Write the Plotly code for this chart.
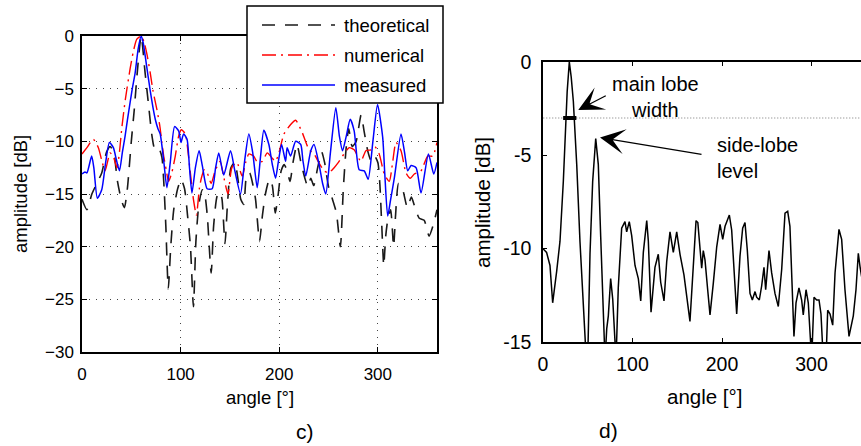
import plotly.graph_objects as go

W, H = 861, 446
def px(x): return x / W
def py(y): return 1 - y / H

# ---------------- panel c) data ----------------
theo_ang = [0, 5, 10, 15, 20, 25, 28.5, 32, 36, 40, 43, 46, 50, 53, 56, 60, 64, 68, 71, 74, 78, 81, 83, 85, 87.5,
            90, 93, 97, 100.5, 104, 107, 110, 113, 115.5, 118.5, 122, 124, 127, 131, 133.5, 137, 140, 142, 145,
            147.5, 151, 155, 158, 161, 164, 167, 170, 173, 176, 180, 183, 186, 190, 193, 196, 199, 202, 205, 208,
            211, 214, 218, 222, 226, 229, 232, 235, 239, 243, 246, 250, 254, 258, 262, 265, 268, 270.5, 274, 278,
            283, 286, 290, 293, 296, 300, 302, 304, 306, 308, 310, 313, 316, 318, 321, 325, 330, 334, 338, 342,
            347, 352, 356, 360]
theo_db = [-15.5, -16.5, -15.0, -14.0, -13.0, -11.0, -10.5, -11.0, -13.8, -15.6, -16.3, -14.5, -10.0, -7.0, -3.5,
           0.0, -3.5, -7.0, -9.5, -10.8, -10.7, -11.5, -14.0, -18.0, -24.0, -20.0, -16.5, -14.5, -13.6, -14.5,
           -17.0, -20.0, -25.7, -19.5, -16.0, -14.6, -14.8, -17.0, -22.5, -18.0, -15.2, -14.8, -15.5, -19.7,
           -16.0, -12.5, -12.0, -13.5, -15.5, -16.0, -13.2, -13.0, -14.0, -15.5, -19.5, -17.0, -15.0, -13.6,
           -14.2, -16.8, -15.0, -12.8, -12.2, -12.8, -13.8, -12.0, -10.3, -12.0, -13.5, -14.3, -13.5, -14.2,
           -12.5, -11.0, -12.0, -14.3, -15.5, -16.8, -20.0, -14.5, -10.5, -8.8, -10.5, -10.0, -7.5, -9.0,
           -11.0, -11.8, -11.3, -12.0, -14.0, -18.0, -21.8, -19.0, -17.5, -16.5, -20.0, -17.0, -14.0, -14.5,
           -16.3, -15.3, -16.4, -17.3, -17.5, -19.0, -18.0, -16.5]

num_ang = [0, 5, 11.5, 16.6, 20, 23.4, 28.5, 32, 35.5, 38, 40.4, 44, 48.8, 52, 55.6, 60, 63, 66, 69.2, 72, 76, 79,
           81, 83, 85.4, 87.8, 91, 94.6, 98, 100.7, 104.8, 107.5, 109.9, 113, 116, 119, 121, 124, 127, 131, 135,
           140, 144, 148, 152, 157, 162.5, 166, 169.2, 174, 178, 182.8, 187.9, 192, 196.3, 200, 204.8, 211.6,
           216.7, 220, 223.5, 230.3, 235.3, 240, 245.5, 250, 255.7, 260, 264.2, 271, 276, 282.8, 287.9, 293, 297,
           301.4, 306.5, 311.6, 315, 318.4, 323.5, 328.6, 333, 337, 343.8, 350.6, 355.7, 360]
num_db = [-11.2, -10.6, -9.8, -10.6, -11.8, -12.8, -11.1, -11.5, -12.5, -11.0, -8.7, -6.0, -3.1, -1.5, -0.3, 0.0,
          -0.6, -1.8, -3.5, -5.2, -7.0, -8.6, -10.1, -11.5, -12.7, -13.8, -13.0, -11.4, -9.5, -8.9, -9.3, -11.0,
          -13.0, -15.5, -17.0, -14.5, -13.5, -12.7, -13.0, -14.0, -12.8, -11.9, -13.5, -15.0, -12.5, -12.0,
          -13.3, -12.0, -11.2, -11.4, -12.0, -11.9, -11.1, -11.5, -11.9, -11.0, -9.3, -8.4, -8.0, -8.5, -9.2,
          -10.8, -11.2, -12.0, -12.8, -13.0, -12.5, -12.0, -11.4, -10.6, -10.8, -11.9, -10.9, -10.8, -10.5,
          -11.2, -13.1, -13.8, -12.0, -10.1, -10.9, -13.0, -13.5, -13.1, -12.8, -11.4, -11.4, -10.1]

meas_ang = [0, 3, 5, 9.8, 12, 15.6, 20, 24, 27.8, 31.8, 35, 38, 41, 43.7, 46, 48.8, 51, 53.9, 57, 60, 62, 65, 67,
            69.2, 72, 74.3, 77, 79.3, 82.7, 86.1, 89.5, 93.9, 98, 100.4, 103, 106.5, 109, 111.5, 115, 118.8, 122,
            126.9, 132, 135.5, 138.7, 143.7, 150.6, 155, 160.7, 165, 169.2, 173, 177.7, 181, 184.4, 189.5, 193,
            196.3, 199, 202.4, 206.5, 208, 211.5, 216.7, 221.8, 224, 226.9, 232, 235.3, 240.4, 244, 247.2, 252,
            257.4, 261, 264.2, 268, 272, 276, 281.1, 286.2, 290.2, 295, 299.7, 304.9, 307, 310, 313, 316.7, 323.5,
            327, 330.3, 333.7, 338.8, 343.8, 351.3, 356.7, 360]
meas_db = [-13.1, -12.9, -13.0, -11.4, -12.5, -15.4, -14.6, -12.0, -10.1, -10.6, -11.8, -12.8, -11.0, -9.5, -8.0,
           -6.3, -5.0, -3.5, -1.2, 0.0, -0.6, -2.5, -3.8, -5.2, -6.8, -7.9, -8.8, -9.3, -11.7, -14.4, -12.0,
           -8.6, -9.0, -10.1, -9.3, -9.8, -12.5, -14.9, -12.5, -10.9, -12.3, -14.5, -14.5, -12.5, -11.1, -13.2,
           -10.9, -12.8, -15.0, -11.8, -9.3, -11.0, -14.4, -11.5, -8.95, -10.3, -12.2, -13.5, -12.0, -10.3,
           -11.9, -10.6, -11.4, -10.0, -10.3, -11.8, -13.3, -10.9, -10.3, -12.2, -14.0, -15.0, -11.0, -6.8,
           -9.5, -10.9, -9.5, -7.9, -9.0, -12.7, -12.8, -13.6, -10.0, -6.5, -9.6, -13.0, -17.1, -15.5, -13.5,
           -9.3, -11.0, -12.8, -12.3, -12.5, -14.9, -11.2, -13.1, -12.0]

# ---------------- panel d) data ----------------
d_ang = [0, 4, 7.8, 10.8, 15.3, 19, 22.7, 25, 27, 29.4, 31.5, 33.9, 37.7, 41.3, 45, 49.5, 52.5, 55.5, 58.9, 61.8,
         64.5, 67.4, 69.3, 71.2, 73, 75.6, 77.9, 81.6, 84.1, 87.9, 91.6, 93.5, 96.4, 99.1, 102.8, 106.5, 109.2,
         112.1, 115.9, 117.7, 120.7, 125.1, 128.8, 131.5, 135.2, 138.2, 141.9, 145.6, 149.4, 153.1, 157.5, 164.2,
         168, 171, 173, 175.4, 177.3, 179.1, 181, 184, 186.6, 190.3, 194.1, 197.8, 200.8, 203.4, 208.2, 210.8,
         213.8, 216.4, 220.1, 223.1, 225.7, 228.3, 231.3, 233.9, 236.9, 238.7, 241.7, 244.3, 246.9, 248.8, 252.5,
         255.5, 259.2, 262.9, 266.7, 270.4, 273.4, 275.9, 278.5, 280.4, 282.7, 286, 289, 290.8, 293.9, 296.4,
         300.2, 302.8, 305.8, 308.4, 310.6, 313.2, 316.2, 318.1, 320.7, 323.7, 326.3, 329.3, 330.7, 333.7, 337.4,
         341.9, 346.7, 349.7, 352.3, 354.2, 356]
d_db = [-10.0, -10.2, -10.9, -12.9, -11.2, -9.6, -6.4, -3.6, -1.6, 0.0, -0.8, -2.1, -5.5, -9.6, -12.5, -17.0,
        -10.3, -6.4, -4.1, -5.5, -9.4, -13.0, -16.0, -14.3, -13.6, -11.6, -12.7, -16.0, -12.1, -8.9, -8.55, -9.1,
        -8.55, -9.3, -10.9, -11.6, -12.8, -10.2, -8.5, -9.6, -13.4, -11.0, -10.3, -11.8, -12.8, -10.7, -9.1,
        -10.2, -9.1, -10.3, -11.4, -13.9, -10.7, -8.5, -8.6, -10.0, -11.05, -10.1, -10.6, -12.2, -13.55,
        -11.85, -9.9, -8.7, -9.5, -8.8, -8.2, -9.0, -11.5, -13.5, -10.4, -8.9, -8.6, -10.1, -12.4, -12.75,
        -12.3, -12.6, -12.75, -12.0, -11.0, -12.2, -10.1, -11.3, -12.4, -13.1, -11.1, -8.1, -8.0, -8.8, -12.2,
        -14.7, -12.9, -12.1, -12.75, -13.55, -12.2, -12.9, -16.0, -12.6, -12.75, -12.75, -13.5, -16.0, -16.0,
        -13.3, -13.5, -14.1, -11.3, -9.35, -8.97, -9.5, -12.2, -14.7, -13.6, -12.2, -10.25, -10.96, -11.5]

half_power_db = -3
mainlobe_edges = [22.5, 37.3]
mainlobe_tip = (39.4, -2.57)
sidelobe_tip = (63.7, -4.05)

c_xticks = [0, 100, 200, 300]
c_yticks = [-30, -25, -20, -15, -10, -5, 0]
d_xticks = [0, 100, 200, 300]
d_yticks = [-15, -10, -5, 0]
d_yticktext = ['-15', '-10', '-5', '0']

FONT = 'Liberation Sans, Arial, sans-serif'
THEO_C, NUM_C, MEAS_C = '#1a1a1a', '#ff0000', '#0000ff'
THEO_DASH = '13px,10px'
NUM_DASH = '14px,5px,2px,5px'

fig = go.Figure()
fig.add_trace(go.Scatter(x=theo_ang, y=theo_db, mode='lines', name='theoretical', showlegend=False,
                         line=dict(color=THEO_C, width=1.6, dash=THEO_DASH, shape='spline', smoothing=0.6),
                         xaxis='x', yaxis='y'))
fig.add_trace(go.Scatter(x=num_ang, y=num_db, mode='lines', name='numerical', showlegend=False,
                         line=dict(color=NUM_C, width=1.4, dash=NUM_DASH, shape='spline', smoothing=0.6),
                         xaxis='x', yaxis='y'))
fig.add_trace(go.Scatter(x=meas_ang, y=meas_db, mode='lines', name='measured', showlegend=False,
                         line=dict(color=MEAS_C, width=1.5, shape='spline', smoothing=0.6),
                         xaxis='x', yaxis='y'))

# panel d
fig.add_trace(go.Scatter(x=[0.3, 360], y=[half_power_db, half_power_db], mode='lines', showlegend=False,
                         line=dict(color='#777', width=1, dash='1px,2px'), xaxis='x2', yaxis='y2',
                         hoverinfo='skip'))
fig.add_trace(go.Scatter(x=d_ang, y=d_db, mode='lines', showlegend=False, name='pattern',
                         line=dict(color='black', width=1.5), xaxis='x2', yaxis='y2'))
fig.add_trace(go.Scatter(x=mainlobe_edges, y=[half_power_db, half_power_db], mode='lines', showlegend=False,
                         line=dict(color='black', width=4), xaxis='x2', yaxis='y2'))

axis_common = dict(showline=True, linecolor='black', linewidth=1.5, ticks='inside', tickcolor='black',
                   zeroline=False, automargin=False)

fig.update_layout(
    width=W, height=H, margin=dict(l=0, r=0, t=0, b=0, autoexpand=False),
    paper_bgcolor='white', plot_bgcolor='white',
    font=dict(family=FONT, color='black'),
    xaxis=dict(domain=[px(82), px(437)], range=[0, 360], tickvals=c_xticks, anchor='y',
               mirror='ticks', ticklen=5, tickfont=dict(size=17),
               showgrid=True, gridcolor='#444', gridwidth=1, griddash='1px,6px', ticklabelstandoff=6,
               **axis_common),
    yaxis=dict(domain=[py(352), py(36)], range=[-30, 0], tickvals=c_yticks, anchor='x',
               mirror='ticks', ticklen=5, tickfont=dict(size=17),
               showgrid=True, gridcolor='#444', gridwidth=1, griddash='1px,6px', ticklabelstandoff=3,
               **axis_common),
    xaxis2=dict(domain=[px(543), 1], range=[0, (861 - 543) / 0.895], tickvals=d_xticks, anchor='y2',
                mirror='ticks', ticklen=4, tickfont=dict(size=19.5), showgrid=False,
                ticklabelstandoff=4, **axis_common),
    yaxis2=dict(domain=[py(342), py(62)], range=[-15, 0], tickvals=d_yticks, ticktext=d_yticktext,
                anchor='x2', mirror=False, ticklen=4, tickfont=dict(size=19.5), showgrid=False,
                ticklabelstandoff=6, **axis_common),
)

ann = []
def text_ann(t, x, y, size, xanchor='center', align='center', angle=0):
    ann.append(dict(text=t, x=px(x), y=py(y), xref='paper', yref='paper', showarrow=False,
                    xanchor=xanchor, yanchor='middle', align=align, textangle=angle,
                    font=dict(size=size, family=FONT, color='black')))

# axis titles
text_ann('amplitude [dB]', 21, 194, 18.5, angle=-90)
text_ann('angle [°]', 260, 397, 18.5)
text_ann('amplitude [dB]', 482, 202, 20.5, angle=-90)
text_ann('angle [°]', 704, 396, 20.5)
text_ann('c)', 305, 431, 21)
text_ann('d)', 608, 430, 21)
# panel d annotations
text_ann('main lobe<br>width', 655, 97, 20)
text_ann('side-lobe<br>level', 715, 158, 20, xanchor='left', align='left')
ann.append(dict(text='', x=mainlobe_tip[0], y=mainlobe_tip[1], xref='x2', yref='y2', showarrow=True,
                ax=29, ay=-15, arrowhead=3, arrowsize=3.2, arrowwidth=1.3, arrowcolor='black', standoff=0))
ann.append(dict(text='', x=sidelobe_tip[0], y=sidelobe_tip[1], xref='x2', yref='y2', showarrow=True,
                ax=103, ay=17, arrowhead=3, arrowsize=3.2, arrowwidth=1.3, arrowcolor='black', standoff=0))

# legend box (panel c)
shapes = [dict(type='rect', xref='paper', yref='paper', x0=px(247), x1=px(443), y0=py(103), y1=py(6),
               line=dict(color='black', width=1.5), fillcolor='white', layer='above')]
legend_items = [('theoretical', THEO_C, THEO_DASH, 25), ('numerical', NUM_C, NUM_DASH, 55),
                ('measured', MEAS_C, 'solid', 85)]
for name, col, dash, yy in legend_items:
    shapes.append(dict(type='line', xref='paper', yref='paper', x0=px(262), x1=px(335), y0=py(yy), y1=py(yy),
                       line=dict(color=col, width=1.5, dash=dash), layer='above'))
    text_ann(name, 342, yy, 18.5, xanchor='left', align='left')

fig.update_layout(annotations=ann, shapes=shapes)
fig.write_html('out.html', config={'displayModeBar': False},
               post_script="document.body.style.margin='0';document.body.style.overflow='hidden';")
